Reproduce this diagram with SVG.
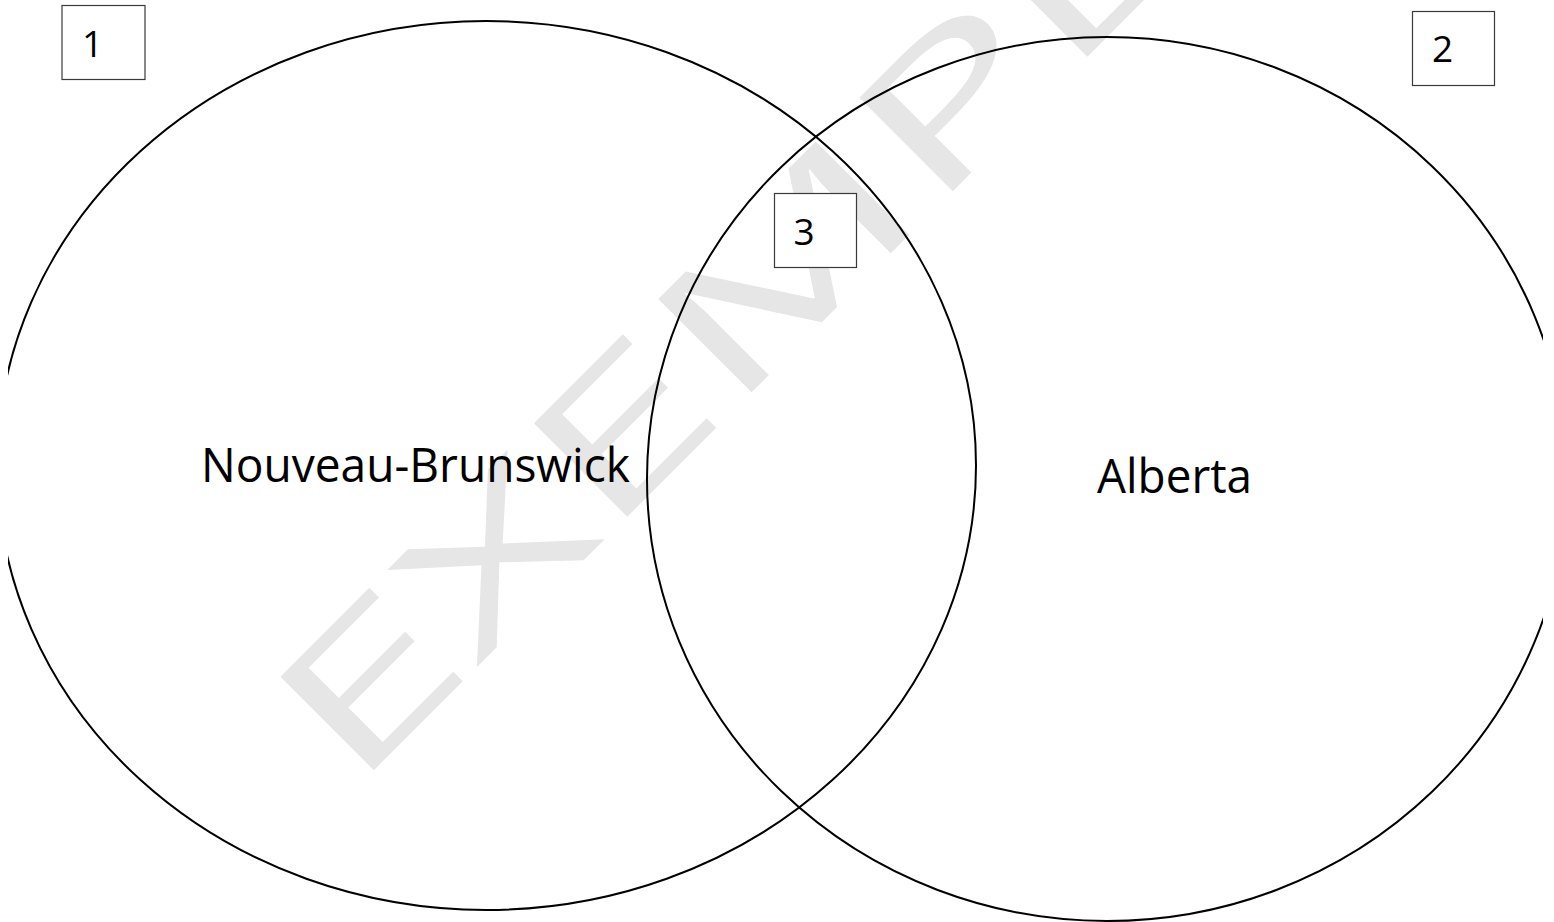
<svg xmlns="http://www.w3.org/2000/svg" width="1554" height="922" viewBox="0 0 1554 922">
  <style>
    .ring { fill: none; stroke: #000; stroke-width: 2; }
    .box { fill: #fff; stroke: #3a3a3a; stroke-width: 1.2; }
    .label { font-family: "Open Sans", "Liberation Sans", sans-serif; font-size: 47px; fill: #000; }
    .num { font-family: "Open Sans", "Liberation Sans", sans-serif; font-size: 37px; fill: #000; text-anchor: middle; }
    .wm { font-family: "Open Sans", "Liberation Sans", sans-serif; font-size: 185px; fill: #e6e6e6; }
  </style>
  <defs>
    <clipPath id="page">
      <rect x="8" y="0" width="1535" height="922"/>
    </clipPath>
  </defs>
  <rect x="0" y="0" width="1554" height="922" fill="#fff"/>
  <g id="watermark">
    <text class="wm" transform="translate(352,792) rotate(-45)" x="0" y="0" textLength="1350" lengthAdjust="spacingAndGlyphs">EXEMPLE</text>
  </g>
  <g id="connectors"></g>
  <g id="set-nouveau-brunswick">
    <ellipse class="ring" cx="486.5" cy="465.5" rx="489.5" ry="444.5" clip-path="url(#page)"/>
    <text class="label" x="201" y="482" textLength="429" lengthAdjust="spacingAndGlyphs">Nouveau-Brunswick</text>
  </g>
  <g id="set-alberta">
    <ellipse class="ring" cx="1107" cy="479" rx="460" ry="442" clip-path="url(#page)"/>
    <text class="label" x="1097" y="493" textLength="155" lengthAdjust="spacingAndGlyphs">Alberta</text>
  </g>
  <g id="box-1">
    <rect class="box" x="62" y="5.5" width="83" height="74"/>
    <text class="num" x="92.5" y="57">1</text>
  </g>
  <g id="box-2">
    <rect class="box" x="1412.5" y="11.5" width="82" height="74"/>
    <text class="num" x="1442.5" y="62">2</text>
  </g>
  <g id="box-3">
    <rect class="box" x="774.5" y="193.5" width="82" height="74"/>
    <text class="num" x="804" y="245">3</text>
  </g>
</svg>
